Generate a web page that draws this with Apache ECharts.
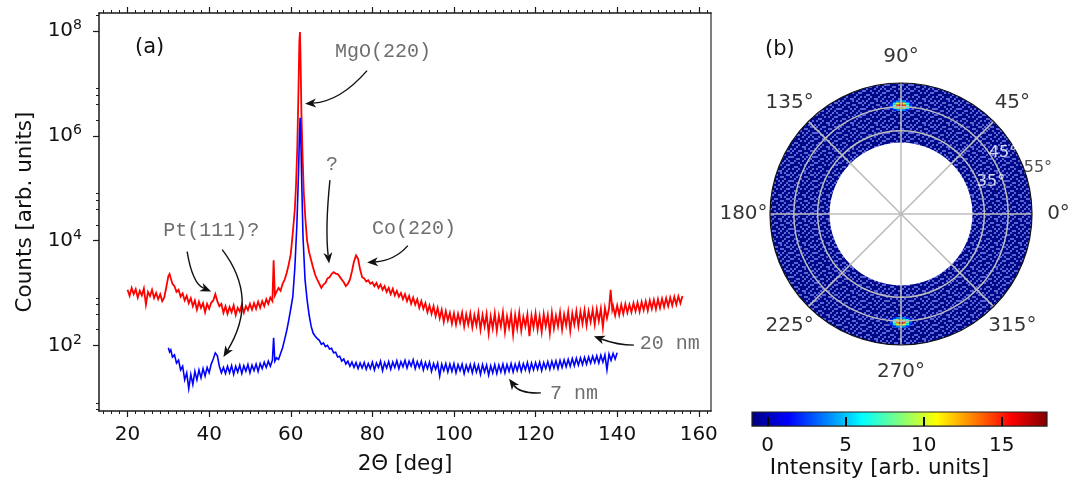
<!DOCTYPE html>
<html><head><meta charset="utf-8">
<script src="https://cdn.jsdelivr.net/npm/echarts@6/dist/echarts.min.js"></script>
<style>html,body{margin:0;padding:0;background:#fff}#c{width:1069px;height:480px}</style>
</head><body><div id="c"></div>
<script>
// ---------------- DATA ----------------
const red20nm = [
[20,1150],[20.5,880],[21,1250],[21.5,950],[22,1180],[22.5,820],[23,1100],[23.5,900],[24,1220],[24.5,600],
[25,1050],[25.5,870],[26,1150],[26.5,800],[27,1000],[27.5,760],[28,950],[28.5,700],[29,820],[29.5,1300],
[30,2100],[30.3,2300],[30.6,1900],[31,1500],[31.5,1350],[32,1050],[32.5,1150],[33,850],[33.5,980],[34,720],
[34.5,880],[35,640],[35.5,800],[36,560],[36.5,720],[37,480],[37.5,680],[38,520],[38.5,640],[39,430],
[39.5,620],[40,500],[40.5,650],[41,720],[41.5,950],[42,700],[42.5,560],[43,620],[43.5,420],[44,560],
[44.5,400],[45,540],[45.5,430],[46,580],[46.5,380],[47,520],[47.5,440],[48,600],[48.5,420],[49,560],
[49.5,470],[50,620],[50.5,480],[51,640],[51.5,500],[52,680],[52.5,520],[53,700],[53.5,560],[54,760],
[54.5,620],[55,820],[55.5,700],[55.8,4200],[56.1,900],[56.5,1050],[57,1250],[57.5,1100],[58,1500],[58.5,1800],
[59,2400],[59.5,3500],[60,5500],[60.5,14000],[61,40000],[61.3,120000],[61.6,600000],[61.9,8e6],[62.1,6e7],[62.25,9.5e7],
[62.4,3e7],[62.6,3e6],[62.9,4e5],[63.2,8e4],[63.6,2.5e4],[64,1e4],[64.5,6000],[65,4200],[65.5,3000],[66,2200],
[66.5,1800],[67,1500],[67.5,1250],[68,1450],[68.5,1550],[69,1900],[69.5,2000],[70,2300],[70.5,2500],[71,2350],
[71.5,2300],[72,2050],[72.5,1800],[73,1600],[73.5,1350],[74,1500],[74.5,1800],[75,2600],[75.5,4000],[76,5200],
[76.5,4500],[77,2800],[77.5,2000],[78,1900],[78.5,1650],[79,1750],[79.5,1500],[80,1600],[80.5,1350],[81,1550],
[81.5,1250],[82,1450],[82.5,1150],[83,1350],[83.5,1050],[84,1250],[84.5,950],[85,1200],[85.5,900],[86,1100],
[86.5,850],[87,1000],[87.5,760],[88,950],[88.5,700],[89,880],[89.5,620],[90,820],[90.5,600],[91,760],
[91.5,520],[92,700],[92.5,500],[93,640],[93.5,430],[94,580],[94.5,400],[95,560],[95.5,360],[96,520],
[96.5,330],[97,480],[97.5,280],[98,450],[98.5,300],[99,420],[99.5,260],[100,410],[100.5,250],[101,400],
[101.5,270],[102,420],[102.5,230],[103,390],[103.5,250],[104,410],[104.5,220],[105,380],[105.5,240],[106,420],
[106.5,200],[107,380],[107.5,230],[108,400],[108.5,170],[109,360],[109.5,210],[110,410],[110.5,190],[111,370],
[111.5,230],[112,430],[112.5,180],[113,360],[113.5,220],[114,400],[114.5,160],[115,380],[115.5,210],[116,420],
[116.5,190],[117,350],[117.5,230],[118,390],[118.5,150],[119,370],[119.5,220],[120,410],[120.5,200],[121,360],
[121.5,180],[122,400],[122.5,230],[123,380],[123.5,170],[124,420],[124.5,210],[125,370],[125.5,230],[126,430],
[126.5,200],[127,390],[127.5,240],[128,440],[128.5,190],[129,410],[129.5,250],[130,450],[130.5,230],[131,440],
[131.5,260],[132,470],[132.5,240],[133,450],[133.5,280],[134,480],[134.5,250],[135,490],[135.5,290],[136,500],
[136.5,220],[137,520],[137.5,330],[138,500],[138.4,1150],[138.8,480],[139,560],[139.5,370],[140,580],[140.5,380],
[141,600],[141.5,400],[142,620],[142.5,420],[143,600],[143.5,430],[144,640],[144.5,450],[145,660],[145.5,440],
[146,680],[146.5,470],[147,700],[147.5,460],[148,720],[148.5,500],[149,740],[149.5,490],[150,760],[150.5,520],
[151,780],[151.5,540],[152,800],[152.5,560],[153,820],[153.5,580],[154,850],[154.5,600],[155,870],[155.5,640],
[156,880]
];
const blue7nm = [
[30,90],[30.3,75],[30.6,82],[31,60],[31.5,66],[32,46],[32.5,52],[33,34],[33.5,40],[34,22],
[34.5,30],[35,15],[35.5,28],[36,18],[36.5,32],[37,22],[37.5,34],[38,24],[38.5,36],[39,26],
[39.5,38],[40,30],[40.5,44],[41,55],[41.5,72],[42,64],[42.5,40],[43,30],[43.5,38],[44,29],
[44.5,40],[45,30],[45.5,41],[46,28],[46.5,40],[47,31],[47.5,42],[48,29],[48.5,41],[49,32],
[49.5,43],[50,30],[50.5,42],[51,33],[51.5,44],[52,32],[52.5,45],[53,36],[53.5,48],[54,38],
[54.5,50],[55,40],[55.5,52],[55.8,140],[56.1,50],[56.5,58],[57,54],[57.5,70],[58,90],[58.5,130],
[59,190],[59.5,300],[60,500],[60.5,850],[61,3000],[61.5,2e4],[61.9,2e5],[62.15,1.2e6],[62.3,2.2e6],[62.45,1e6],
[62.7,1.2e5],[63,1.2e4],[63.5,1800],[64,750],[64.5,380],[65,230],[65.5,170],[66,150],[66.5,135],[67,125],
[67.5,105],[68,112],[68.5,95],[69,100],[69.5,85],[70,88],[70.5,72],[71,74],[71.5,60],[72,62],
[72.5,50],[73,55],[73.5,44],[74,50],[74.5,40],[75,48],[75.5,38],[76,47],[76.5,36],[77,46],
[77.5,37],[78,47],[78.5,35],[79,45],[79.5,36],[80,48],[80.5,34],[81,46],[81.5,38],[82,50],
[82.5,33],[83,47],[83.5,37],[84,49],[84.5,35],[85,48],[85.5,38],[86,51],[86.5,36],[87,49],
[87.5,39],[88,52],[88.5,37],[89,50],[89.5,40],[90,53],[90.5,36],[91,49],[91.5,38],[92,50],
[92.5,34],[93,47],[93.5,36],[94,48],[94.5,32],[95,45],[95.5,35],[96,46],[96.5,26],[97,44],
[97.5,33],[98,45],[98.5,31],[99,44],[99.5,32],[100,45],[100.5,30],[101,43],[101.5,33],[102,44],
[102.5,29],[103,42],[103.5,32],[104,43],[104.5,30],[105,44],[105.5,31],[106,42],[106.5,28],[107,43],
[107.5,31],[108,42],[108.5,27],[109,41],[109.5,30],[110,43],[110.5,29],[111,42],[111.5,31],[112,44],
[112.5,30],[113,43],[113.5,32],[114,45],[114.5,31],[115,44],[115.5,33],[116,46],[116.5,32],[117,45],
[117.5,34],[118,47],[118.5,32],[119,46],[119.5,34],[120,47],[120.5,35],[121,48],[121.5,33],[122,47],
[122.5,36],[123,49],[123.5,35],[124,50],[124.5,37],[125,51],[125.5,36],[126,52],[126.5,38],[127,53],
[127.5,39],[128,54],[128.5,40],[129,56],[129.5,41],[130,57],[130.5,42],[131,58],[131.5,43],[132,59],
[132.5,44],[133,60],[133.5,46],[134,62],[134.5,47],[135,63],[135.5,46],[136,65],[136.5,48],[137,66],
[137.5,34],[138,68],[138.5,52],[139,70],[139.5,55],[140,72]
];
const xTicks = [20,40,60,80,100,120,140,160];
const xMinorTicks = [14,16,18,22,24,26,28,30,32,34,36,38,42,44,46,48,50,52,54,56,58,62,64,66,68,70,72,74,76,78,
  82,84,86,88,90,92,94,96,98,102,104,106,108,110,112,114,116,118,122,124,126,128,130,132,134,136,138,
  142,144,146,148,150,152,154,156,158,162];
const yTicks = [1e2,1e4,1e6,1e8];
const yMinorTicks = [6,8,200,400,600,800,2e4,4e4,6e4,8e4,2e6,4e6,6e6,8e6,2e8];
const xRange = [13,163];
const yRange = [5.6,2.2e8];
// annotation texts: [2theta, counts, text]
const peakLabels = [
  [82.6,4.0e7,'MgO(220)'],[70.1,2.75e5,'?'],[40.5,1.54e4,'Pt(111)?'],
  [90.2,1.68e4,'Co(220)'],[152.9,106,'20 nm'],[129.4,11.9,'7 nm']
];
// arrows: [start x, start y, control x, control y, tip x, tip y]
const arrows = [
  [78.7,1.75e7, 72.1,4.5e6, 63.5,4.1e6],
  [69.6,1.42e5, 68.4,1.68e4, 69.4,3650],
  [34.6,6170, 35.9,1510, 40.5,1070],
  [43.2,6710, 52.3,789, 43.5,60],
  [88.7,8020, 85.5,4170, 78.7,3810],
  [144.1,101, 140.1,101, 134.3,150],
  [121.3,12.4, 116.2,11.9, 113.5,23]
];
// pole figure
const angleTicks = [0,45,90,135,180,225,270,315];
const angleTickLabels = ['0°','45°','90°','135°','180°','225°','270°','315°'];
const chiGrid = [35,45];
const chiLabels = [[40.1,19.6,'35°'],[49.9,30.9,'45°'],[55,18.9,'55°']];
const chiRange = [0,55];
const ringChi = [30,55];
const spotCenters = [90,270];
const spotAngleOffsets = [-5.1,-3.4,-1.7,0,1.7,3.4,5.1];
const spotChi = [47.3,46.4,45.5,44.6,43.7];
const topSpot = [
  [1,2,4,5,4,2,1],
  [2,6,10,12,10,6,2],
  [3,8,14,16,14,8,3],
  [2,6,11,12,10,6,2],
  [1,2,4,5,4,2,1]
];
const bottomSpot = [
  [1,2,4,5,4,2,1],
  [2,6,10,12,10,6,2],
  [3,8,13,16,14,8,3],
  [2,6,10,12,9,6,2],
  [1,2,4,5,4,2,1]
];
const cbRange = [-1,17.9];
const cbTicks = [0,5,10,15];

// ---------------- STYLE ----------------
const jet = ['#00007f','#0000ff','#007fff','#00ffff','#7fff7f','#ffff00','#ff7f00','#ff0000','#7f0000'];
const ringBase = '#00088a';
const ringSpeck = '#5a64d4';
const speckleTile = [
  '100100010010','001001100100','010000101001','100110000110','001000110001','010010001000',
  '100001010011','001100100100','010001001010','100100010001','000010100110','011000001000'];
const speckCell = 2;
const spotCellChi = 0.9, spotCellAngle = 1.7;
const monoFont = "'Liberation Mono', monospace";
const annColor = '#4a4a4a';
const nameFont = 21.5;
const angleLabelGap = 26.5;
const chiLabelStyles=[{color:'#ffffff',fontSize:16},{color:'#ffffff',fontSize:16},{color:'#222',fontSize:16,offset:[13,-4]}];

function makeSpeckle(){
  const n = speckleTile.length*speckCell;
  const cv=document.createElement('canvas'); cv.width=n; cv.height=n;
  const g=cv.getContext('2d'); g.fillStyle=ringBase; g.fillRect(0,0,n,n);
  g.fillStyle=ringSpeck;
  speckleTile.forEach((row,i)=>{for(let j=0;j<row.length;j++) if(row[j]==='1') g.fillRect(j*speckCell,i*speckCell,speckCell,speckCell);});
  return cv;
}
const speckle = makeSpeckle();

const spotData = [];
[topSpot,bottomSpot].forEach((grid,k)=>{
  grid.forEach((row,i)=>row.forEach((v,j)=>{
    if(v>=1.5) spotData.push([spotChi[i], spotCenters[k]+spotAngleOffsets[j], v]);
  }));
});
const polarLabelData = angleTicks.map((a,i)=>{
  const t=a*Math.PI/180;
  return {value:[chiRange[1],a,angleTickLabels[i]], label:{offset:[angleLabelGap*Math.cos(t),-angleLabelGap*Math.sin(t)]}};
}).concat(chiLabels.map((d,i)=>({value:d,label:chiLabelStyles[i]})));

const chart = echarts.init(document.getElementById('c'));
const axisCol = '#1a1a1a';
function dist(p,c){return Math.hypot(p[0]-c[0],p[1]-c[1]);}

const option = {
  animation:false,
  backgroundColor:'#fff',
  textStyle:{fontFamily:'DejaVu Sans'},
  title:[
    {text:'(a)', left:130, top:32, textStyle:{fontSize:21,fontWeight:'normal',color:'#111',fontFamily:'DejaVu Sans'}},
    {text:'(b)', left:760, top:34, textStyle:{fontSize:21,fontWeight:'normal',color:'#111',fontFamily:'DejaVu Sans'}}
  ],
  grid:[
    {left:99, top:13, width:612, height:400, containLabel:false},
    {left:752, top:412, width:295, height:15}
  ],
  polar:[{center:[901,214], radius:[0,131]}],
  angleAxis:[{polarIndex:0, type:'value', min:0, max:360, interval:45, startAngle:0, clockwise:false, z:10,
    axisLine:{show:true,lineStyle:{color:'#111',width:1.2}}, axisTick:{show:false}, axisLabel:{show:false},
    splitLine:{show:true,lineStyle:{color:'#bdbdbd',width:1.5}}}],
  radiusAxis:[{polarIndex:0, type:'value', min:chiRange[0], max:chiRange[1], z:10,
    axisLine:{show:false}, axisTick:{show:false, customValues:chiGrid}, axisLabel:{show:false},
    splitLine:{show:true,lineStyle:{color:'#bdbdbd',width:1.5}}}],
  xAxis:[
    {gridIndex:0, type:'value', position:'bottom', min:xRange[0], max:xRange[1],
      axisLine:{onZero:false,lineStyle:{color:axisCol,width:1.5}},
      axisTick:{customValues:xTicks,length:6,lineStyle:{color:axisCol,width:1.2}},
      axisLabel:{customValues:xTicks,fontSize:20,color:'#111',margin:14},
      splitLine:{show:false},
      name:'2Θ [deg]', nameLocation:'middle', nameGap:42, nameTextStyle:{fontSize:nameFont,color:'#111'}},
    {gridIndex:0, type:'value', position:'bottom', min:xRange[0], max:xRange[1],
      axisLine:{show:false,onZero:false}, axisTick:{customValues:xMinorTicks,length:3,lineStyle:{color:axisCol,width:1}},
      axisLabel:{show:false}, splitLine:{show:false}},
    {gridIndex:0, type:'value', position:'top', min:xRange[0], max:xRange[1],
      axisLine:{onZero:false,lineStyle:{color:axisCol,width:1.5}},
      axisTick:{customValues:xTicks,length:6,lineStyle:{color:axisCol,width:1.2}},
      axisLabel:{show:false}, splitLine:{show:false}},
    {gridIndex:0, type:'value', position:'top', min:xRange[0], max:xRange[1],
      axisLine:{show:false,onZero:false}, axisTick:{customValues:xMinorTicks,length:3,lineStyle:{color:axisCol,width:1}},
      axisLabel:{show:false}, splitLine:{show:false}},
    {gridIndex:1, type:'value', position:'bottom', min:cbRange[0], max:cbRange[1], z:5,
      axisLine:{show:false,onZero:false},
      axisTick:{customValues:cbTicks,inside:true,length:9,lineStyle:{color:'#000',width:2}},
      axisLabel:{customValues:cbTicks,fontSize:20,color:'#111',margin:10},
      splitLine:{show:false},
      name:'Intensity [arb. units]', nameLocation:'middle', nameGap:25,
      nameTextStyle:{fontSize:nameFont,color:'#111',padding:[0,40,0,0]}}
  ],
  yAxis:[
    {gridIndex:0, type:'log', logBase:10, position:'left', min:yRange[0], max:yRange[1],
      axisLine:{onZero:false,lineStyle:{color:axisCol,width:1.5}},
      axisTick:{customValues:yTicks,length:6,lineStyle:{color:axisCol,width:1.2}},
      axisLabel:{customValues:yTicks,margin:17,color:'#111',
        formatter:v=>'{b|10}{s|'+Math.round(Math.log10(v))+'}',
        rich:{b:{fontSize:20,color:'#111'},s:{fontSize:14,color:'#111',padding:[0,0,11,0]}}},
      splitLine:{show:false},
      name:'Counts [arb. units]', nameLocation:'middle', nameGap:62, nameTextStyle:{fontSize:nameFont,color:'#111'}},
    {gridIndex:0, type:'log', logBase:10, position:'left', min:yRange[0], max:yRange[1],
      axisLine:{show:false,onZero:false}, axisTick:{customValues:yMinorTicks,length:3,lineStyle:{color:axisCol,width:1}},
      axisLabel:{show:false}, splitLine:{show:false}},
    {gridIndex:0, type:'log', logBase:10, position:'right', min:yRange[0], max:yRange[1],
      axisLine:{show:true,onZero:false,lineStyle:{color:'#555',width:1.5}}, axisTick:{show:false},
      axisLabel:{show:false}, splitLine:{show:false}},
    {gridIndex:1, type:'value', min:0, max:1, show:false}
  ],
  visualMap:[{type:'continuous', show:false, min:cbRange[0], max:cbRange[1], dimension:2, seriesIndex:5,
    inRange:{color:jet}}],
  series:[
    {name:'20 nm', type:'line', xAxisIndex:0, yAxisIndex:0, data:red20nm, showSymbol:false, symbol:'none',
      lineStyle:{color:'#ff0000',width:1.8,join:'miter'}, itemStyle:{color:'#ff0000'}, z:2},
    {name:'7 nm', type:'line', xAxisIndex:0, yAxisIndex:0, data:blue7nm, showSymbol:false, symbol:'none',
      lineStyle:{color:'#0000ff',width:1.6,join:'miter'}, itemStyle:{color:'#0000ff'}, z:3},
    {type:'custom', xAxisIndex:0, yAxisIndex:0, data:arrows, z:4,
      dimensions:['x0','y0','cx','cy','x1','y1'], encode:{x:[0,2,4], y:[1,3,5]},
      renderItem:(params,api)=>{
        const s=api.coord([api.value(0),api.value(1)]);
        const c=api.coord([api.value(2),api.value(3)]);
        const e=api.coord([api.value(4),api.value(5)]);
        let dx=e[0]-c[0], dy=e[1]-c[1]; const L=Math.hypot(dx,dy)||1; dx/=L; dy/=L;
        const len=11, w=4.5, nx=-dy, ny=dx;
        const bx=e[0]-dx*len, by=e[1]-dy*len;
        const mx=e[0]-dx*len*0.72, my=e[1]-dy*len*0.72;
        return {type:'group', children:[
          {type:'bezierCurve', shape:{x1:s[0],y1:s[1],cpx1:c[0],cpy1:c[1],x2:mx,y2:my},
            style:{stroke:'#111',lineWidth:1.4,fill:null}},
          {type:'polygon', shape:{points:[[e[0],e[1]],[bx+nx*w,by+ny*w],[mx,my],[bx-nx*w,by-ny*w]]},
            style:{fill:'#111'}}
        ]};
      }},
    {type:'scatter', xAxisIndex:0, yAxisIndex:0, data:peakLabels, symbolSize:1, z:5,
      itemStyle:{color:'transparent'},
      label:{show:true, position:'inside', formatter:p=>p.data[2], fontFamily:monoFont, fontSize:20, color:annColor}},
    {type:'custom', coordinateSystem:'polar', polarIndex:0, data:[ringChi], z:2, silent:true,
      renderItem:(params,api)=>{
        const cs=params.coordSys; const ctr=[cs.cx,cs.cy];
        const r0=dist(api.coord([api.value(0),0]),ctr), r1=dist(api.coord([api.value(1),0]),ctr);
        return {type:'sector', shape:{cx:ctr[0],cy:ctr[1],r0:r0,r:r1,startAngle:0,endAngle:Math.PI*2},
          style:{fill:{image:speckle,repeat:'repeat'}}};
      }},
    {type:'custom', coordinateSystem:'polar', polarIndex:0, data:spotData, z:3, silent:true,
      dimensions:['chi','angle','value'],
      renderItem:(params,api)=>{
        const cs=params.coordSys; const ctr=[cs.cx,cs.cy];
        const chi=api.value(0), ang=api.value(1);
        const r0=dist(api.coord([chi-spotCellChi/2,ang]),ctr), r1=dist(api.coord([chi+spotCellChi/2,ang]),ctr);
        const pa=api.coord([chi,ang-spotCellAngle/2]), pb=api.coord([chi,ang+spotCellAngle/2]);
        const a0=Math.atan2(pa[1]-ctr[1],pa[0]-ctr[0]), a1=Math.atan2(pb[1]-ctr[1],pb[0]-ctr[0]);
        return {type:'sector', shape:{cx:ctr[0],cy:ctr[1],r0:r0,r:r1,startAngle:a1,endAngle:a0,clockwise:true},
          style:{fill:api.visual('color')}};
      }},
    {type:'scatter', coordinateSystem:'polar', polarIndex:0, data:polarLabelData, symbolSize:1, z:12,
      itemStyle:{color:'transparent'},
      label:{show:true, position:'inside', formatter:p=>p.value[2], fontSize:20, color:'#000'}},
    {type:'custom', xAxisIndex:4, yAxisIndex:3, data:[cbRange], z:2, silent:true,
      renderItem:(params,api)=>{
        const p0=api.coord([api.value(0),0]), p1=api.coord([api.value(1),1]);
        return {type:'rect', shape:{x:p0[0],y:p1[1],width:p1[0]-p0[0],height:p0[1]-p1[1]},
          style:{fill:new echarts.graphic.LinearGradient(0,0,1,0, jet.map((c,i)=>({offset:i/(jet.length-1),color:c}))),
            stroke:'#222',lineWidth:1.2}};
      }}
  ]
};
chart.setOption(option);
</script>
</body></html>
